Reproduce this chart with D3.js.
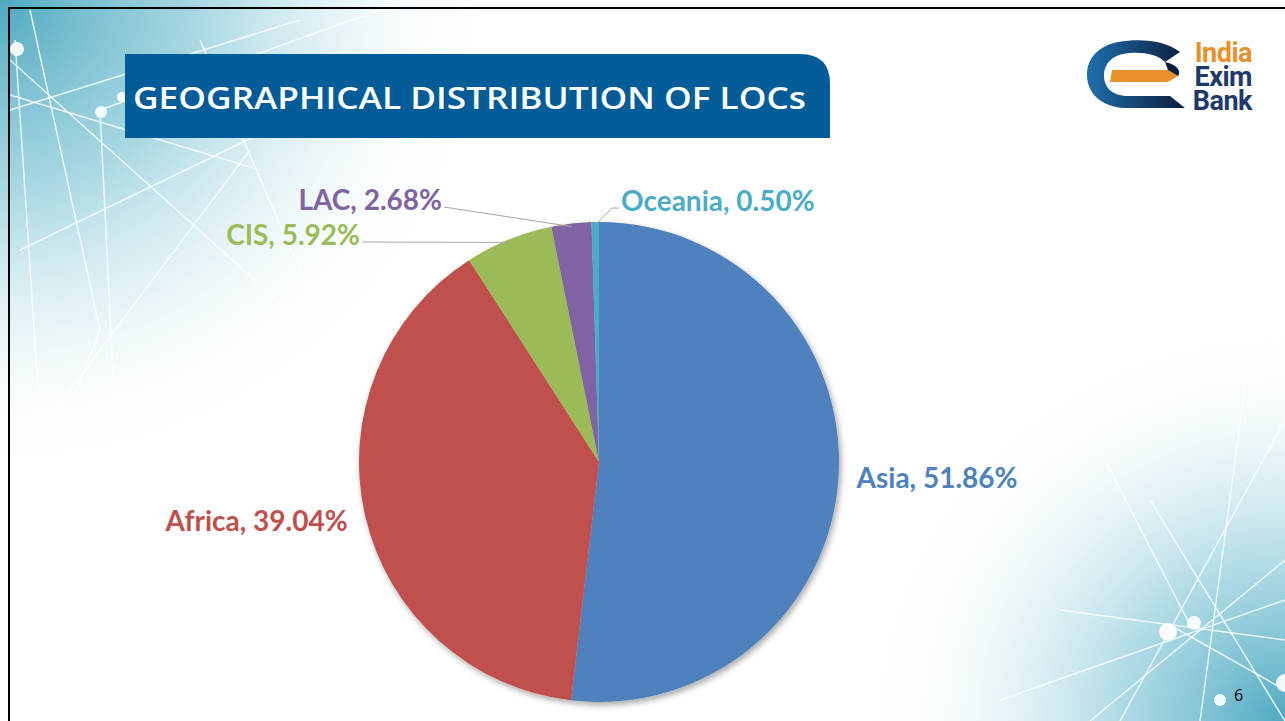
<!DOCTYPE html>
<html>
<head>
<meta charset="utf-8">
<script src="https://cdn.jsdelivr.net/npm/d3@7"></script>
<style>
  html, body { margin: 0; padding: 0; background: #fff; overflow: hidden; }
  svg { display: block; }
</style>
</head>
<body>
<div id="chart"></div>
<script>

// data
var regions = ["Asia", "Africa", "CIS", "LAC", "Oceania"];
var shares = [51.86, 39.04, 5.92, 2.68, 0.50];
var sliceColors = ["#4F81BD", "#C0504D", "#9BBB59", "#8064A2", "#4BACC6"];

var W = 1285, H = 721;
var cx = 599, cy = 462, radius = 240;

var svg = d3.select("#chart").append("svg")
  .attr("width", W)
  .attr("height", H);

var defs = svg.append("defs");

// soft teal corners of the slide background
var tl = defs.append("radialGradient").attr("id", "tl")
  .attr("cx", 0).attr("cy", 0).attr("r", 1).attr("gradientUnits", "objectBoundingBox");
tl.append("stop").attr("offset", "0%").attr("stop-color", "#4fa9c0").attr("stop-opacity", 1);
tl.append("stop").attr("offset", "40%").attr("stop-color", "#8ccbd9").attr("stop-opacity", 0.75);
tl.append("stop").attr("offset", "100%").attr("stop-color", "#ffffff").attr("stop-opacity", 0);

var br = defs.append("radialGradient").attr("id", "br")
  .attr("cx", 1).attr("cy", 1).attr("r", 1).attr("gradientUnits", "objectBoundingBox");
br.append("stop").attr("offset", "0%").attr("stop-color", "#4fa8c2").attr("stop-opacity", 1);
br.append("stop").attr("offset", "40%").attr("stop-color", "#90cddb").attr("stop-opacity", 0.7);
br.append("stop").attr("offset", "100%").attr("stop-color", "#ffffff").attr("stop-opacity", 0);

var logoGrad = defs.append("linearGradient").attr("id", "logoGrad")
  .attr("x1", 0).attr("y1", 0).attr("x2", 1).attr("y2", 0);
logoGrad.append("stop").attr("offset", "0%").attr("stop-color", "#1f6fae");
logoGrad.append("stop").attr("offset", "100%").attr("stop-color", "#0c1f3c");

var shadow = defs.append("filter").attr("id", "shadow")
  .attr("x", "-10%").attr("y", "-10%").attr("width", "120%").attr("height", "120%");
shadow.append("feDropShadow").attr("dx", 2).attr("dy", 3)
  .attr("stdDeviation", 3).attr("flood-color", "#000").attr("flood-opacity", 0.35);

var bg = svg.append("g");
bg.append("rect").attr("width", W).attr("height", H).attr("fill", "#fff");
bg.append("rect").attr("x", 0).attr("y", 0).attr("width", 500).attr("height", 480).attr("fill", "url(#tl)");
bg.append("rect").attr("x", 860).attr("y", 320).attr("width", 425).attr("height", 401).attr("fill", "url(#br)");

// a few network lines in the corners (decoration only)
var netLines = [
  [[10, 110], [300, 20]], [[10, 60], [310, 330]], [[15, 40], [60, 721]], [[30, 10], [100, 330]],
  [[10, 95], [260, 170]], [[100, 110], [380, 10]], [[20, 250], [330, 100]], [[100, 330], [10, 560]],
  [[100, 110], [130, 720]], [[10, 470], [250, 150]], [[200, 40], [330, 340]],
  [[1285, 560], [1090, 721]], [[1170, 625], [1285, 690]], [[1060, 610], [1285, 640]],
  [[1150, 500], [1285, 721]], [[1250, 350], [1200, 721]], [[1100, 450], [1190, 625]],
  [[1000, 700], [1285, 600]], [[1285, 420], [1120, 721]]
];
bg.selectAll("line.net").data(netLines).enter().append("line")
  .attr("class", "net")
  .attr("x1", function(d) { return d[0][0]; }).attr("y1", function(d) { return d[0][1]; })
  .attr("x2", function(d) { return d[1][0]; }).attr("y2", function(d) { return d[1][1]; })
  .attr("stroke", "#fff").attr("stroke-width", 1.5).attr("opacity", 0.8);
var netNodes = [[17, 49, 7], [101, 112, 6], [122, 97, 5], [1168, 632, 9], [1194, 623, 7], [1285, 683, 9], [1220, 700, 6]];
bg.selectAll("circle.node").data(netNodes).enter().append("circle")
  .attr("class", "node")
  .attr("cx", function(d) { return d[0]; }).attr("cy", function(d) { return d[1]; })
  .attr("r", function(d) { return d[2]; })
  .attr("fill", "#fff").attr("opacity", 0.9);

// slide frame
svg.append("rect")
  .attr("x", 9).attr("y", 8).attr("width", W + 20).attr("height", H + 20)
  .attr("fill", "none").attr("stroke", "#000").attr("stroke-width", 2);

// title banner with rounded top-right corner
var bx = 125, by = 54, bw = 705, bh = 84, rr = 30;
svg.append("path")
  .attr("d", "M" + bx + "," + by + "H" + (bx + bw - rr) +
    "Q" + (bx + bw) + "," + by + " " + (bx + bw) + "," + (by + rr) +
    "V" + (by + bh) + "H" + bx + "Z")
  .attr("fill", "#025c98");
svg.append("text")
  .attr("x", 133).attr("y", 109)
  .attr("textLength", 673).attr("lengthAdjust", "spacingAndGlyphs")
  .attr("fill", "#fff")
  .style("font-family", "'Open Sans', sans-serif")
  .style("font-size", "31px")
  .style("font-weight", 600)
  .text("GEOGRAPHICAL DISTRIBUTION OF LOCs");

// logo
var logo = svg.append("g");
logo.append("path")
  .attr("d", "M1180,52 C1165,40 1140,38 1118,42 C1094,47 1087,62 1087,75 C1087,92 1100,107 1125,108 L1185,108 L1170,96 L1128,96 C1112,96 1104,87 1104,76 C1104,62 1114,54 1130,53 C1150,52 1160,57 1165,62 Z")
  .attr("fill", "url(#logoGrad)");
logo.append("path")
  .attr("d", "M1112,70 L1168,70 L1178,76 L1168,82 L1110,82 Z")
  .attr("fill", "#e8912b");
logo.append("path")
  .attr("d", "M1165,62 C1175,64 1182,70 1178,76 L1168,70 Z")
  .attr("fill", "#0c1f3c");
var logoLines = [["India", "#e8912b"], ["Exim", "#1e3a6b"], ["Bank", "#1e3a6b"]];
logo.append("text")
  .attr("y", 62)
  .attr("text-anchor", "end")
  .style("font-family", "Roboto, sans-serif")
  .style("font-weight", 700)
  .style("font-size", "27px")
  .style("letter-spacing", "-0.5px")
  .selectAll("tspan").data(logoLines).enter().append("tspan")
  .attr("x", 1252)
  .attr("dy", function(d, i) { return i === 0 ? 0 : 24; })
  .attr("fill", function(d) { return d[1]; })
  .text(function(d) { return d[0]; });

// pie
var data = regions.map(function(r, i) { return { region: r, share: shares[i] }; });
var color = d3.scaleOrdinal().domain(regions).range(sliceColors);

var pie = d3.pie().sort(null).value(function(d) { return d.share; });
var arc = d3.arc().innerRadius(0).outerRadius(radius);
var labelArc = d3.arc().innerRadius(radius + 18).outerRadius(radius + 18);
var edgeArc = d3.arc().innerRadius(radius - 3).outerRadius(radius - 3);

var arcs = pie(data);

var g = svg.append("g").attr("transform", "translate(" + cx + "," + cy + ")");

g.append("g").attr("filter", "url(#shadow)")
  .selectAll("path")
  .data(arcs)
  .enter()
  .append("path")
  .attr("d", arc)
  .attr("fill", function(d) { return color(d.data.region); });

// label placement: big slices sit outside their arc, small ones get leader lines
var leaderEnds = {
  "CIS": [[-237, -220]],
  "LAC": [[-155, -255]],
  "Oceania": [[13, -254], [20, -254]]
};

function labelText(d) { return d.data.region + ", " + d.data.share.toFixed(2) + "%"; }

arcs.forEach(function(d) {
  var lbl = g.append("text")
    .attr("fill", color(d.data.region))
    .style("font-family", "Lato, sans-serif")
    .style("font-weight", 700)
    .style("font-size", "28px")
    .text(labelText(d));

  var ends = leaderEnds[d.data.region];
  if (!ends) {
    var c = labelArc.centroid(d);
    var mid = (d.startAngle + d.endAngle) / 2;
    lbl.attr("x", c[0]).attr("y", c[1] + 11)
      .attr("text-anchor", mid < Math.PI ? "start" : "end");
  } else {
    var start = edgeArc.centroid(d);
    var pts = [start].concat(ends);
    g.append("path")
      .attr("d", d3.line()(pts))
      .attr("fill", "none")
      .attr("stroke", "#a6a6a6")
      .attr("stroke-width", 1);
    var last = ends[ends.length - 1];
    var toLeft = last[0] < start[0];
    lbl.attr("x", last[0] + (toLeft ? -2 : 2))
      .attr("y", last[1] + 3)
      .attr("text-anchor", toLeft ? "end" : "start");
  }
});

// page number
svg.append("text")
  .attr("x", 1234).attr("y", 701)
  .attr("fill", "#000")
  .style("font-family", "'Open Sans', sans-serif")
  .style("font-size", "16px")
  .text("6");

</script>
</body>
</html>
